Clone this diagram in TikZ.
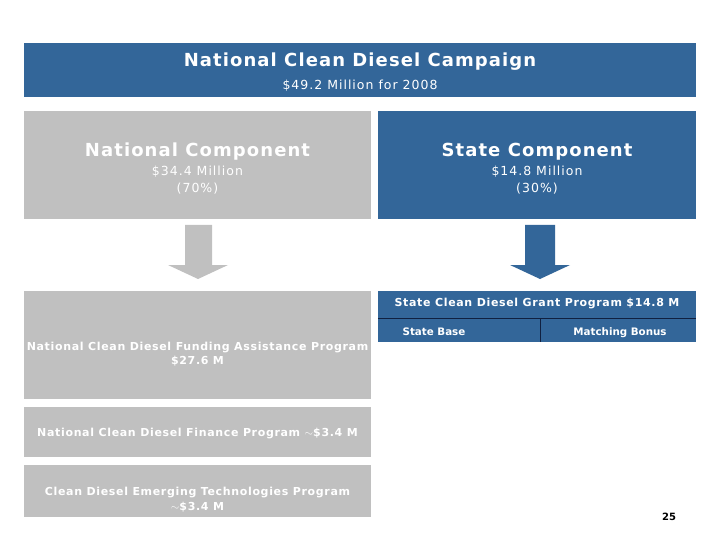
\documentclass[tikz,border=0pt]{standalone}
\usepackage{fontspec}
\setmainfont{DejaVu Sans}
\newfontfamily\titlefont[LetterSpace=6]{DejaVu Sans}
\newfontfamily\widefont[LetterSpace=8]{DejaVu Sans}
\newfontfamily\progfont[LetterSpace=6]{DejaVu Sans}
\definecolor{ncblue}{RGB}{51,102,153}
\definecolor{ncgray}{RGB}{192,192,192}
\definecolor{ncline}{RGB}{16,32,64}
\tikzset{
  box/.style={inner sep=0pt, text=white, align=center},
  txt/.style={box, yshift=-1.5pt},
  bluebox/.style={box, fill=ncblue},
  graybox/.style={box, fill=ncgray},
  big/.style={font=\titlefont\fontsize{18}{20}\selectfont\bfseries},
  sub/.style={font=\widefont\fontsize{12.5}{17}\selectfont},
  prog/.style={font=\progfont\fontsize{11}{14.5}\selectfont\bfseries},
  cell/.style={box, anchor=base, font=\fontsize{10.3}{12}\selectfont\bfseries},
}
\begin{document}
\begin{tikzpicture}[x=1pt,y=-1pt]
  \useasboundingbox[fill=white] (0,0) rectangle (720,540);
  % banner
  \node[bluebox, minimum width=672, minimum height=54] (camp) at (360,70) {};
  \node[txt, big] (camptitle) at (360,60) {National Clean Diesel Campaign};
  \node[txt, sub] (campsub) at (360,84) {\$49.2 Million for 2008};
  % components
  \node[graybox, minimum width=347, minimum height=108] (natl) at (197.5,165) {};
  \node[txt, big] at (197.5,150) {National Component};
  \node[txt, sub] at (197.5,178.5) {\$34.4 Million\\(70\%)};
  \node[bluebox, minimum width=318, minimum height=108] (state) at (537,165) {};
  \node[txt, big] at (537,150) {State Component};
  \node[txt, sub] at (537,178.5) {\$14.8 Million\\(30\%)};
  % block arrows
  \fill[ncgray] (185,225) -- (212,225) -- (212,265) -- (228,265) -- (198,279)
    -- (168,265) -- (185,265) -- cycle;
  \fill[ncblue] (525,225) -- (555,225) -- (555,265) -- (570,265) -- (540,279)
    -- (510,265) -- (525,265) -- cycle;
  % national programs
  \node[graybox, minimum width=347, minimum height=108] (fund) at (197.5,345) {};
  \node[txt, prog] at (197.5,352.5)
    {National Clean Diesel Funding Assistance Program\\\$27.6 M};
  \node[graybox, minimum width=347, minimum height=50] (fin) at (197.5,432) {};
  \node[txt, prog] at (197.5,432)
    {National Clean Diesel Finance Program $\sim$\$3.4 M};
  \node[graybox, minimum width=347, minimum height=52] (tech) at (197.5,491) {};
  \node[txt, prog] at (197.5,498)
    {Clean Diesel Emerging Technologies Program\\$\sim$\$3.4 M};
  % state grant program
  \node[bluebox, minimum width=318, minimum height=51] (grant) at (537,316.5) {};
  \node[txt, prog] at (537,302) {State Clean Diesel Grant Program \$14.8 M};
  \draw[ncline] (grant.west |- 0,318) -- (grant.east |- 0,318);
  \draw[ncline] (540,318) -- (grant.south -| 540,0);
  \node[cell] at (434,335) {State Base};
  \node[cell] at (620,335) {Matching Bonus};
  % page number
  \node[font=\fontsize{10}{12}\selectfont\bfseries] (page) at (669,517) {25};
\end{tikzpicture}
\end{document}
